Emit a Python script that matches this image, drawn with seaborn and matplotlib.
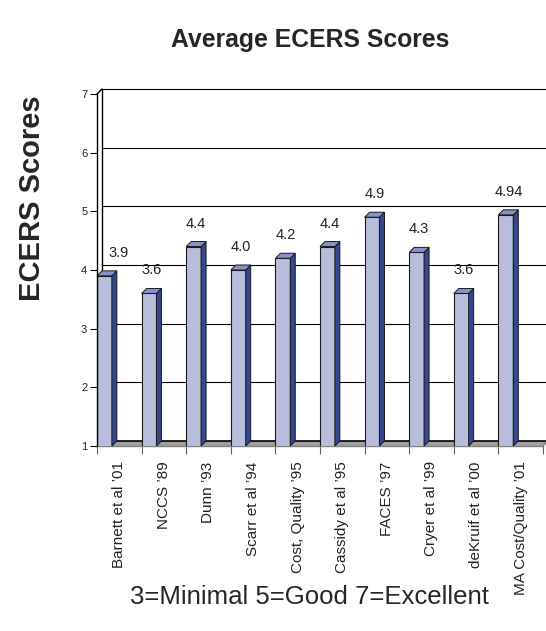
import matplotlib
matplotlib.use("Agg")
import matplotlib.pyplot as plt
import seaborn as sns
import pandas as pd
import numpy as np
from matplotlib.patches import Polygon

# ---- data ----
studies = ["Barnett et al \u201901", "NCCS \u201989", "Dunn \u201993", "Scarr et al \u201994",
           "Cost, Quality \u201995", "Cassidy et al \u201995", "FACES \u201997",
           "Cryer et al \u201999", "deKruif et al \u201900", "MA Cost/Quality \u201901"]
scores = [3.9, 3.6, 4.4, 4.0, 4.2, 4.4, 4.9, 4.3, 3.6, 4.94]
score_labels = ["3.9", "3.6", "4.4", "4.0", "4.2", "4.4", "4.9", "4.3", "3.6", "4.94"]
y_ticks = [1, 2, 3, 4, 5, 6, 7]
title = "Average ECERS Scores"
y_title = "ECERS Scores"
footnote = "3=Minimal 5=Good 7=Excellent"

sns.set_theme(style="white")
plt.rcParams['font.family'] = ['Liberation Sans', 'DejaVu Sans']

W, H = 546, 631
fig = plt.figure(figsize=(W / 100, H / 100), dpi=100)
ax_l, ax_r, ax_t, ax_b = 97, 543, 94, 446
ax = fig.add_axes([ax_l / W, 1 - ax_b / H, (ax_r - ax_l) / W, (ax_b - ax_t) / H])

front = "#B8BDDC"
side = "#34478E"
top = "#8593CA"
edge = "#1a1a1a"

df = pd.DataFrame({"study": studies, "score": scores})
sns.barplot(data=df, x="study", y="score", width=1 / 3, color=front, saturation=1,
            edgecolor=edge, linewidth=0.8, ax=ax, zorder=4)

n = len(studies)
x0, x1 = -1 / 6, n - 1 / 6
ymin, ymax = y_ticks[0], y_ticks[-1]
ax.set_xlim(x0, x1)
ax.set_ylim(ymin, ymax)

# depth offset (5 px right, 5 px up) in data units
px_x = (ax_r - ax_l) / (x1 - x0)
px_y = (ax_b - ax_t) / (ymax - ymin)
dx, dy = 5 / px_x, 5 / px_y

# back wall, gridlines, floor
ax.plot([x0 + dx, x0 + dx], [ymin + dy, ymax + dy], color="black", lw=1, clip_on=False, zorder=2)
ax.plot([x0, x0 + dx], [ymax, ymax + dy], color="black", lw=1, clip_on=False, zorder=2)
for k in y_ticks[1:]:
    ax.plot([x0 + dx, x1 + dx], [k + dy, k + dy], color="black", lw=0.8, clip_on=False, zorder=2)
floor = Polygon([(x0, ymin), (x1, ymin), (x1 + dx, ymin + dy), (x0 + dx, ymin + dy)],
                closed=True, facecolor="#a0a0a0", edgecolor="none", clip_on=False, zorder=1)
ax.add_patch(floor)
ax.plot([x0 + dx, x1 + dx], [ymin + dy, ymin + dy], color="black", lw=1.2, clip_on=False, zorder=2)
ax.plot([x1, x1 + dx], [ymin, ymin + dy], color="#707070", lw=0.8, clip_on=False, zorder=2)

# 3D faces of the bars
for i, v in enumerate(scores):
    bl, br = i - 1 / 6, i + 1 / 6
    ax.add_patch(Polygon([(br, ymin), (br, v), (br + dx, v + dy), (br + dx, ymin + dy)],
                         closed=True, facecolor=side, edgecolor=edge, lw=0.7, zorder=4, clip_on=False))
    ax.add_patch(Polygon([(bl, v), (br, v), (br + dx, v + dy), (bl + dx, v + dy)],
                         closed=True, facecolor=top, edgecolor=edge, lw=0.7, zorder=4, clip_on=False))
    shift = 12 if i == 0 else 0  # first label nudged clear of the axis
    ax.annotate(score_labels[i], xy=(i + dx / 2, v), xytext=(shift, 23), textcoords="offset pixels",
                ha="center", va="center", fontsize=10.5, color="#222222")

# spines and ticks
for s in ["top", "right"]:
    ax.spines[s].set_visible(False)
ax.spines["left"].set_color("black")
ax.spines["left"].set_linewidth(1)
ax.spines["bottom"].set_color("#808080")
ax.spines["bottom"].set_linewidth(1)
ax.spines["left"].set_zorder(5)

ax.set_yticks(y_ticks)
ax.set_yticklabels([str(t) for t in y_ticks])
ax.tick_params(axis="y", left=True, length=5, width=0.8, color="black", labelsize=8, pad=2,
               labelcolor="#222222")
ax.set_xticks(np.arange(n + 1) - 1 / 6)
ax.set_xticklabels([""] * (n + 1))
ax.set_xticks(np.arange(n) + 1 / 3, minor=True)
ax.set_xticklabels(studies, minor=True, rotation=90, fontsize=11, color="#222222")
ax.tick_params(axis="x", which="major", bottom=True, length=6, width=0.8, color="#606060")
ax.tick_params(axis="x", which="minor", bottom=True, length=0, pad=11)
ax.set_xlabel("")
ax.set_ylabel("")
ax.grid(False)

fig.text(310 / W, 1 - 40 / H, title, ha="center", va="center", fontsize=17.8, fontweight="bold")
fig.text(32 / W, 1 - 198 / H, y_title, ha="center", va="center", rotation=90,
         fontsize=21, fontweight="bold")
fig.text(309 / W, 1 - 597 / H, footnote, ha="center", va="center", fontsize=18.5)

fig.savefig("out.png", dpi=100)
